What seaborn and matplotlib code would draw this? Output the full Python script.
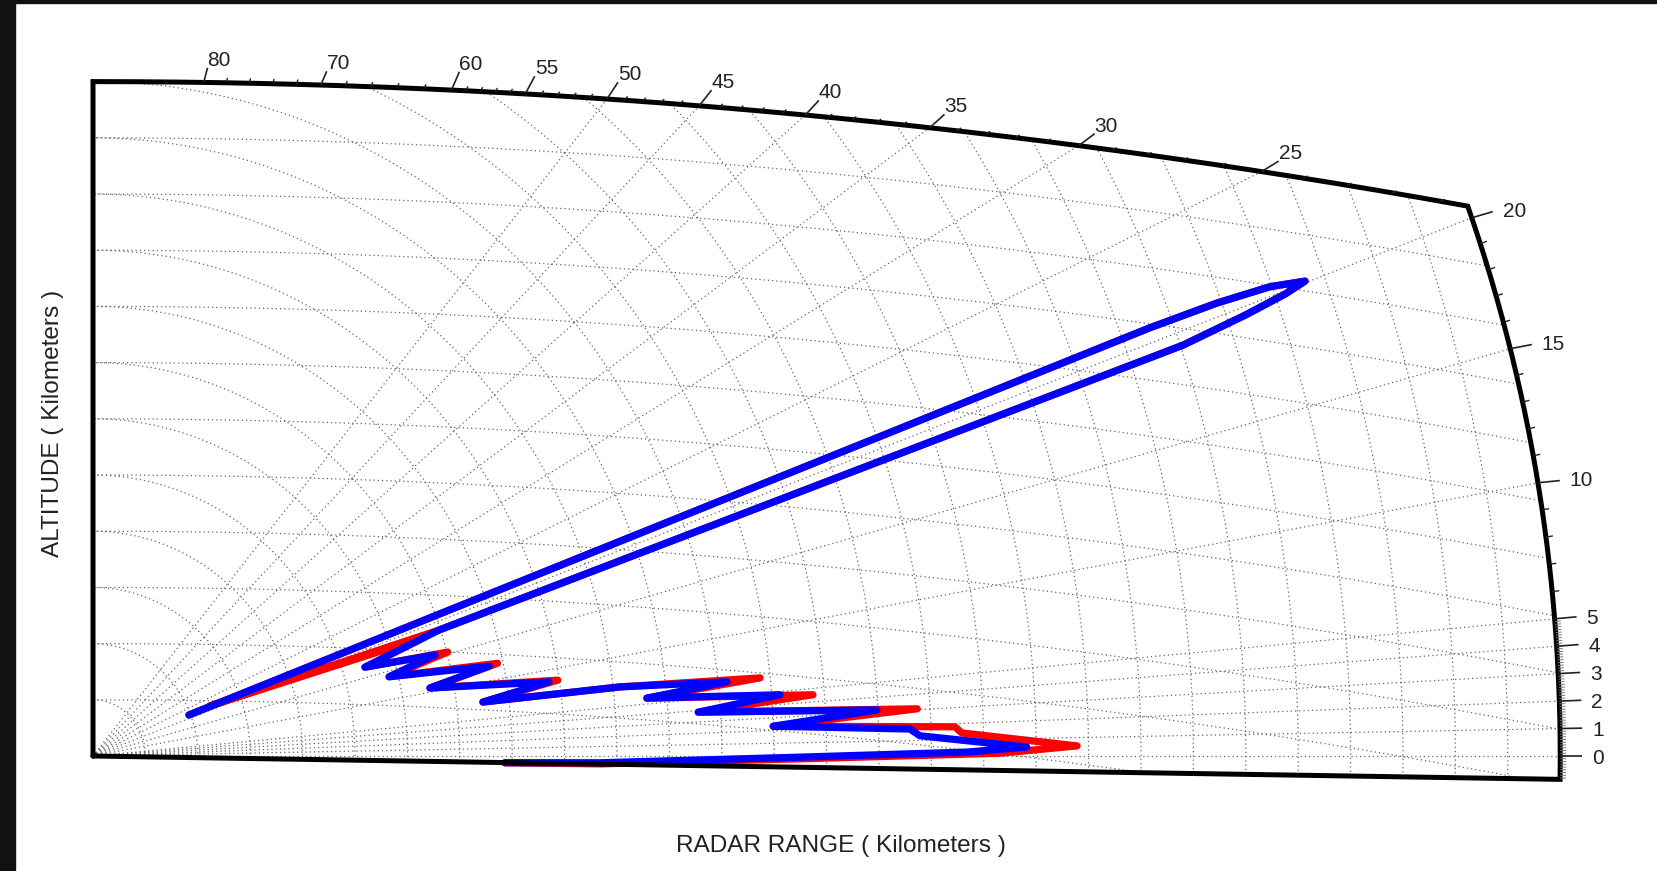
import numpy as np
import matplotlib
matplotlib.use("Agg")
import matplotlib.pyplot as plt
from matplotlib.patches import Polygon, Rectangle
import seaborn as sns

# coverage chart frame (range / altitude units)
R_MAX = 28.0
H_MAX = 12.0
CURV = 0.00322
BOTTOM_DEG = -0.85

top_labels = [80, 70, 60, 55, 50, 45, 40, 35, 30, 25]
side_labels = [20, 15, 10, 5, 4, 3, 2, 1, 0]
grid_rays = [0, 1, 2, 3, 4, 5, 10, 15, 20, 25, 30, 35, 40, 45, 50]
range_arcs = list(range(1, 28))
alt_lines = list(range(1, 12))

# blue coverage contour
blue_x = [1.83, 20.17, 21.45, 22.46, 23.13, 22.75, 22.00, 20.80, 6.60,
          5.19, 6.53, 5.65, 7.56, 6.43, 8.70, 7.44, 10.06,
          12.10, 10.57, 13.11, 11.55, 14.96, 12.98, 15.59, 15.78, 17.82, 16.68,
          13.49, 9.68, 7.86]
blue_y = [0.73, 7.62, 8.06, 8.35, 8.45, 8.22, 7.85, 7.31, 2.24,
          1.58, 1.80, 1.41, 1.60, 1.21, 1.32, 0.96, 1.23,
          1.32, 1.03, 1.09, 0.78, 0.82, 0.53, 0.48, 0.36, 0.16, 0.07,
          -0.02, -0.12, -0.12]

# red coverage contour
red_x = [1.83, 20.17, 21.45, 22.46, 23.13, 22.75, 22.00, 20.80, 6.60,
         2.23, 6.34, 5.19, 6.77, 5.65, 7.72, 6.43, 8.87,
         7.44, 10.06, 12.73, 10.57, 13.74, 11.55, 15.73, 12.98, 16.45, 16.58,
         18.78, 17.31, 13.49, 9.68, 7.86]
red_y = [0.73, 7.62, 8.06, 8.35, 8.45, 8.22, 7.85, 7.31, 2.24,
         0.89, 2.12, 1.58, 1.85, 1.41, 1.65, 1.21, 1.35,
         0.96, 1.23, 1.39, 1.03, 1.09, 0.78, 0.84, 0.53, 0.52, 0.41,
         0.18, 0.05, -0.05, -0.14, -0.12]

sns.set_theme(style="white")
plt.rcParams['font.family'] = ['Liberation Sans', 'DejaVu Sans']

W, H = 1658, 871
fig = plt.figure(figsize=(W / 100, H / 100), dpi=100)
ax = fig.add_axes([0, 0, 1, 1])
XL = (-1.775, 29.866)
YL = (-2.046, 13.452)
ax.set_xlim(*XL)
ax.set_ylim(*YL)
ax.axis('off')
PX = (XL[1] - XL[0]) / W
PY = (YL[1] - YL[0]) / H

# dark scan border
fig.patches.append(Rectangle((0, 0), 15 / W, 1, transform=fig.transFigure, color='#111111', zorder=10))
fig.patches.append(Rectangle((0, 1 - 3 / H), 1, 3 / H, transform=fig.transFigure, color='#111111', zorder=10))


def top_y(x):
    return H_MAX - CURV * x ** 2


# corner where top curve meets max range arc
a = CURV ** 2
b = 1 - 2 * H_MAX * CURV
cc = H_MAX ** 2 - R_MAX ** 2
u = (-b + np.sqrt(b * b - 4 * a * cc)) / (2 * a)
xc = np.sqrt(u)
th_c = np.degrees(np.arctan2(top_y(xc), xc))


def frame_point(th):
    if th <= th_c:
        t = np.radians(th)
        return R_MAX * np.cos(t), R_MAX * np.sin(t)
    if th >= 90:
        return 0.0, H_MAX
    t = np.tan(np.radians(th))
    x = (-t + np.sqrt(t * t + 4 * CURV * H_MAX)) / (2 * CURV)
    return x, x * t


xt = np.linspace(0, xc, 300)
ta = np.radians(np.linspace(th_c, BOTTOM_DEG, 300))
fx = np.concatenate([[0, 0], xt, R_MAX * np.cos(ta), [0]])
fy = np.concatenate([[0, H_MAX], top_y(xt), R_MAX * np.sin(ta), [0]])
clip = Polygon(np.column_stack([fx, fy]), closed=True, facecolor='none', edgecolor='none')
ax.add_patch(clip)

gkw = dict(color='#666666', lw=0.9, ls=(0, (1, 2.4)), zorder=1)
for h in alt_lines:
    xx = np.linspace(0, 30, 400)
    ln, = ax.plot(xx, h - CURV * xx ** 2, **gkw)
    ln.set_clip_path(clip)
for r in range_arcs:
    tt = np.radians(np.linspace(BOTTOM_DEG, 90, 500))
    ln, = ax.plot(r * np.cos(tt), r * np.sin(tt), **gkw)
    ln.set_clip_path(clip)
for th in grid_rays:
    t = np.radians(th)
    ln, = ax.plot([0, 30 * np.cos(t)], [0, 30 * np.sin(t)], **gkw)
    ln.set_clip_path(clip)

# coverage contours
sns.lineplot(x=red_x, y=red_y, sort=False, estimator=None, color='#ff0000',
             lw=5.2, ax=ax, zorder=3, solid_joinstyle='round', solid_capstyle='round')
sns.lineplot(x=blue_x, y=blue_y, sort=False, estimator=None, color='#0000ff',
             lw=5.2, ax=ax, zorder=4, solid_joinstyle='round', solid_capstyle='round')

# frame
ax.plot(fx, fy, color='black', lw=3.6, zorder=5, solid_joinstyle='miter')


def px_dir(th, shift=0.0):
    ang = np.arctan(np.tan(np.radians(min(th, 89.9))) * PX / PY) - np.radians(shift)
    return np.cos(ang), np.sin(ang)


def tick(th, length, lw=1.0, color='#222222', shift=0.0):
    x0, y0 = frame_point(th)
    dx, dy = px_dir(th, shift)
    x1, y1 = x0 + dx * length * PX, y0 + dy * length * PY
    ax.plot([x0, x1], [y0, y1], color=color, lw=lw, zorder=5, solid_capstyle='butt')
    return x1, y1


# minor ticks
for th in np.arange(BOTTOM_DEG + 0.05, 5.0, 0.1):
    tick(round(th, 2), 6, lw=0.7, color='#777777')
for th in list(range(6, 20)) + list(range(21, 60)) + list(range(62, 80, 2)):
    if th in (10, 15) + tuple(top_labels):
        continue
    tick(th, 7 if th < 20 else 5, lw=1.0)

# labelled ticks
for th in side_labels:
    shift = 0 if th <= 5 else 5
    x1, y1 = tick(th, 22, lw=1.2, shift=shift)
    dy = -2 if th <= 5 else 0
    ax.text(x1 + 10 * PX, y1 + dy * PY, str(th), ha='left', va='center', fontsize=15, color='#222222')
for th in top_labels:
    if th <= 60:
        x1, y1 = tick(th, 20, lw=1.2, shift=-5)
    else:
        x1, y1 = tick(th, 15, lw=1.2, shift=5)
    ax.text(x1, y1 - 2 * PY, str(th), ha='left', va='bottom', fontsize=15, color='#222222')

fig.text(53 / W, 1 - 423 / H, 'ALTITUDE ( Kilometers )', rotation=90, ha='center', va='center',
         fontsize=17.6, color='#222222')
fig.text(841 / W, 1 - 846 / H, 'RADAR RANGE ( Kilometers )', ha='center', va='center',
         fontsize=17.6, color='#222222')

fig.savefig('out.png', dpi=100, facecolor='white')
